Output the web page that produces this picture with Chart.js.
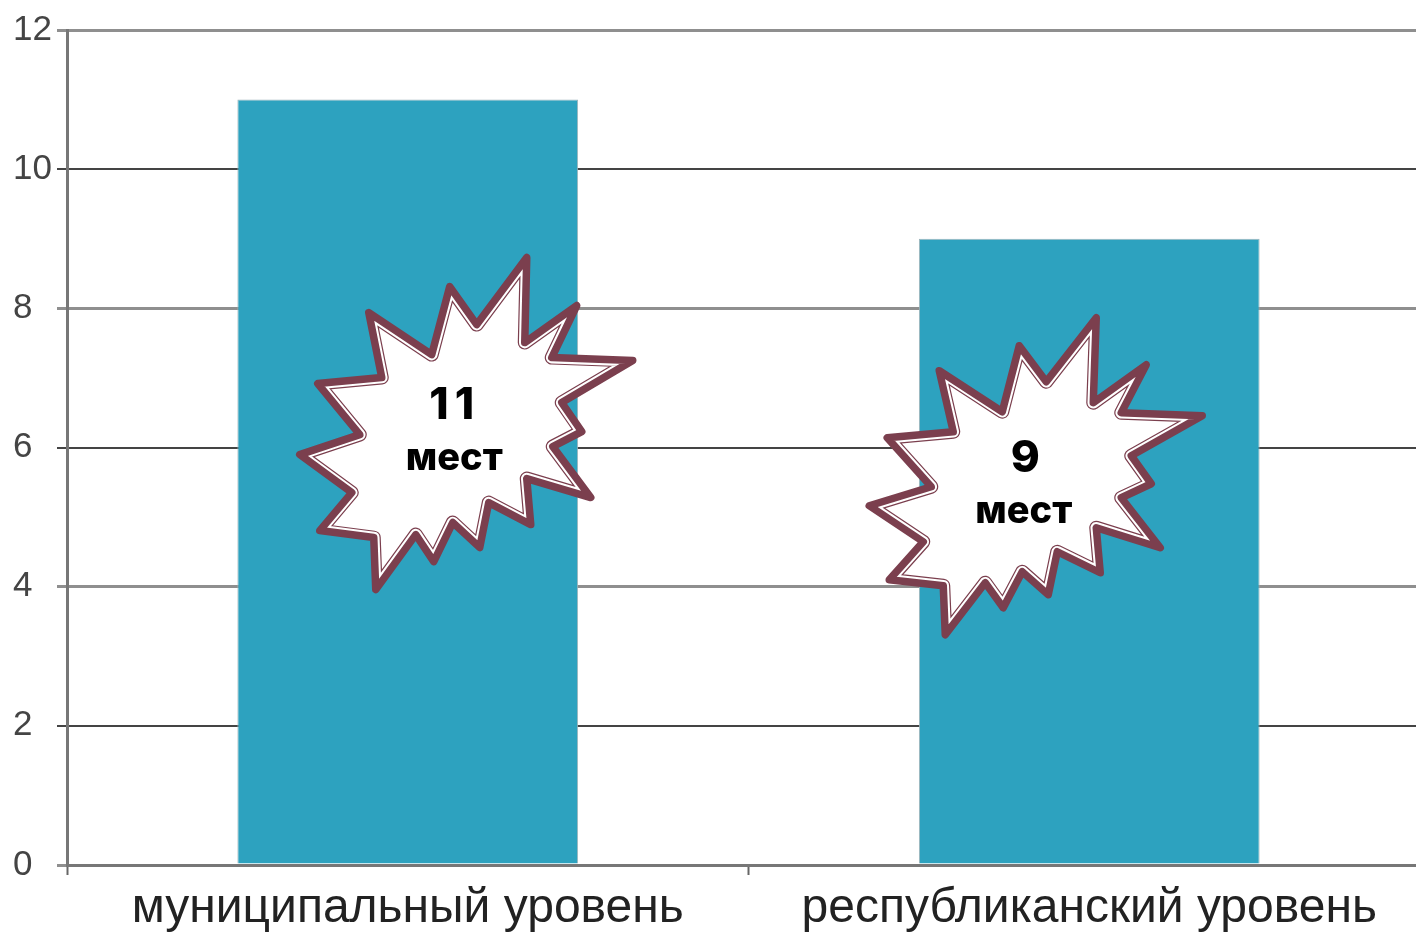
<!DOCTYPE html>
<html>
<head>
<meta charset="utf-8">
<title>Места</title>
<script src="https://cdn.jsdelivr.net/npm/chart.js@4/dist/chart.umd.min.js"></script>
<style>
    html, body { margin: 0; padding: 0; background: #fff; overflow: hidden; }
    #barChart { display: block; }
</style>
</head>
<body>
<canvas id="barChart" width="1430" height="933"></canvas>
<script>
const categories = ["муниципальный уровень", "республиканский уровень"];
const places = [11, 9];
const yTicks = [0, 2, 4, 6, 8, 10, 12];
const starCaptions = [["11", "мест"], ["9", "мест"]];

const MAROON = "#7b3f4e";

// star outlines, px offsets from the top centre of each bar
const starOutlines = [
    [[119,158],[117,243],[169,206],[144,258],[225,261],[154,303],[174,332],[145,347],[183,398],[119,379],
     [123,425],[81,403],[72,448],[45,423],[26,462],[8,435],[-32,490],[-34,438],[-88,431],[-56,393],
     [-108,355],[-48,335],[-90,284],[-26,278],[-39,213],[24,255],[42,187],[69,225]],
    [[7,79],[4,164],[57,126],[32,174],[113,177],[42,217],[62,245],[32,259],[71,309],[7,289],
     [11,334],[-32,313],[-41,356],[-67,333],[-86,369],[-104,344],[-144,396],[-146,347],[-200,341],[-166,303],
     [-220,267],[-158,248],[-202,199],[-136,193],[-150,132],[-87,173],[-70,107],[-43,143]]
];
const captionOffsets = [
    [[47, 306], [46.5, 359]],
    [[-61, 220], [-65.5, 273]]
];

const starPlugin = {
    id: "stars",
    afterDatasetsDraw(chart) {
        const ctx = chart.ctx;
        const x = chart.scales.x;
        const y = chart.scales.y;

        starOutlines.forEach((outline, i) => {
            const ax = x.getPixelForValue(i);
            const ay = y.getPixelForValue(places[i]);

            const path = new Path2D();
            outline.forEach((p, k) => {
                if (k === 0) path.moveTo(ax + p[0], ay + p[1]);
                else path.lineTo(ax + p[0], ay + p[1]);
            });
            path.closePath();

            ctx.save();
            ctx.lineJoin = "round";
            ctx.fillStyle = "#fff";
            ctx.fill(path);

            // thin inner line + white gap, only inside the outline
            ctx.save();
            ctx.clip(path);
            ctx.strokeStyle = MAROON;
            ctx.lineWidth = 14;
            ctx.stroke(path);
            ctx.strokeStyle = "#fff";
            ctx.lineWidth = 11.6;
            ctx.stroke(path);
            ctx.restore();

            ctx.strokeStyle = MAROON;
            ctx.lineWidth = 7.5;
            ctx.stroke(path);

            // caption
            ctx.fillStyle = "#000";
            ctx.textAlign = "center";
            ctx.textBaseline = "middle";
            ctx.font = "800 44px Inter";
            ctx.letterSpacing = "6px";
            const first = captionOffsets[i][0];
            ctx.fillText(starCaptions[i][0], ax + first[0], ay + first[1]);
            ctx.font = "800 38px Inter";
            ctx.letterSpacing = "0px";
            const second = captionOffsets[i][1];
            ctx.fillText(starCaptions[i][1], ax + second[0], ay + second[1]);
            ctx.restore();
        });
    }
};

const ctx = document.getElementById("barChart").getContext("2d");
new Chart(ctx, {
    type: "bar",
    data: {
        labels: categories,
        datasets: [{
            data: places,
            backgroundColor: "#2da2bf",
            borderColor: "#9fb4ba",
            borderWidth: 1,
            barPercentage: 1,
            categoryPercentage: 0.5
        }]
    },
    options: {
        responsive: false,
        animation: false,
        layout: { padding: { top: 30, right: 0, bottom: 0, left: 13 } },
        plugins: {
            legend: { display: false },
            tooltip: { enabled: false }
        },
        scales: {
            x: {
                afterFit: (scale) => { scale.height = 68; },
                grid: {
                    offset: true,
                    drawOnChartArea: false,
                    tickLength: 10,
                    tickColor: "#666",
                    tickWidth: 2
                },
                border: { color: "#777", width: 3 },
                ticks: {
                    maxRotation: 0,
                    padding: 5,
                    color: "#222",
                    font: { family: "'Liberation Sans'", size: 48 }
                }
            },
            y: {
                min: 0,
                max: 12,
                afterBuildTicks: (scale) => { scale.ticks = yTicks.map((v) => ({ value: v })); },
                afterFit: (scale) => { scale.width = 54; },
                grid: {
                    // every other line came out darker and thinner in the original
                    color: (c) => (c.tick.value % 4 === 0 ? "#8f8f8f" : "#444"),
                    lineWidth: (c) => (c.tick.value % 4 === 0 ? 3 : 2),
                    tickLength: 10
                },
                border: { color: "#777", width: 3 },
                ticks: {
                    crossAlign: "far",
                    color: "#444",
                    font: { family: "'Liberation Sans'", size: 35 }
                }
            }
        }
    },
    plugins: [starPlugin]
});
</script>
</body>
</html>
